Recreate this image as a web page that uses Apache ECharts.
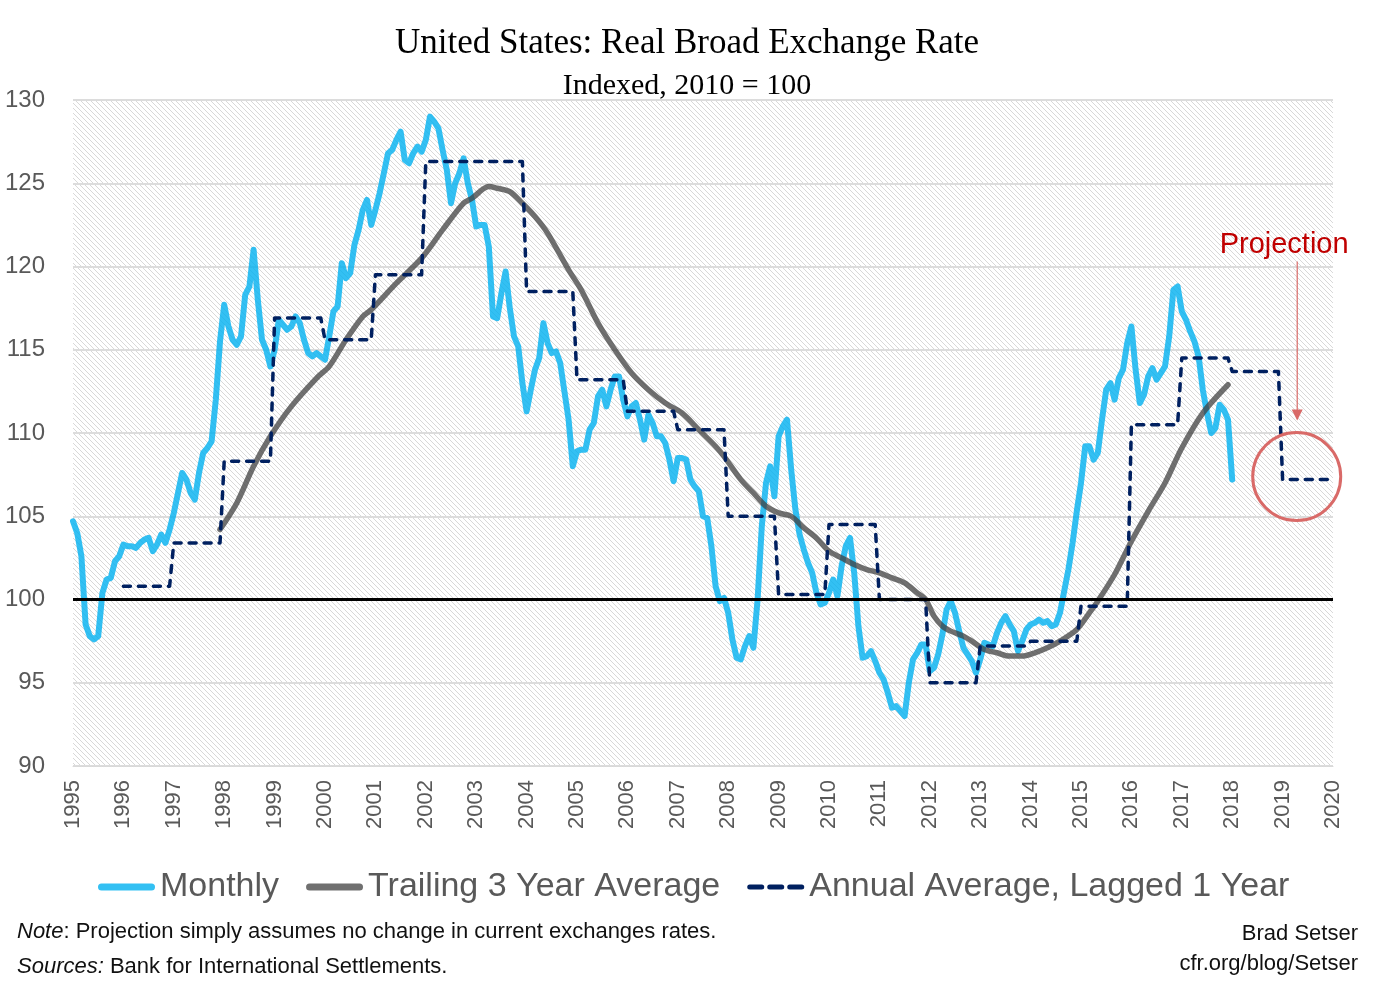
<!DOCTYPE html>
<html><head><meta charset="utf-8">
<script src="https://cdn.jsdelivr.net/npm/echarts@6/dist/echarts.min.js"></script>
<style>html,body{margin:0;padding:0;background:#fff}#c{width:1374px;height:989px}</style>
</head><body><div id="c"></div>
<script>
// ---- DATA ----
const startYear = 1995; // monthly series starts Jan 1995
const monthly = [
  104.7,104.0,102.6,98.5,97.8,97.6,97.8,100.4,101.2,101.3,102.3,102.6,
  103.3,103.2,103.2,103.1,103.4,103.6,103.7,102.9,103.3,103.9,103.4,104.2,
  105.2,106.4,107.6,107.2,106.4,106.0,107.6,108.8,109.1,109.5,112.0,115.5,
  117.7,116.4,115.6,115.3,115.8,118.3,118.8,121.0,118.0,115.6,115.0,114.0,
  115.0,116.8,116.5,116.2,116.4,117.0,116.6,115.6,114.8,114.6,114.8,114.6,
  114.4,115.8,117.3,117.6,120.2,119.3,119.6,121.3,122.2,123.4,124.0,122.5,
  123.4,124.4,125.6,126.8,127.0,127.6,128.1,126.4,126.2,126.8,127.2,126.9,
  127.6,129.0,128.7,128.3,127.0,125.8,123.8,125.0,125.6,126.5,125.0,124.0,
  122.4,122.5,122.5,121.2,117.0,116.9,118.4,119.7,117.5,115.8,115.2,113.0,
  111.3,112.6,113.8,114.5,116.6,115.4,114.8,114.9,114.2,112.5,110.8,108.0,
  108.9,109.0,109.0,110.2,110.6,112.2,112.6,111.6,112.6,113.4,113.4,112.0,
  111.0,111.6,111.8,110.8,109.6,111.1,110.6,109.8,109.8,109.4,108.4,107.1,
  108.5,108.5,108.4,107.2,106.8,106.5,105.0,104.9,103.2,100.8,99.9,100.1,
  99.2,97.6,96.5,96.4,97.2,97.8,97.1,100.0,104.4,107.0,108.0,106.2,
  109.8,110.4,110.8,107.8,105.4,103.9,103.0,102.2,101.6,100.4,99.7,99.8,
  100.4,101.2,100.2,102.0,103.2,103.7,101.6,98.4,96.5,96.6,96.9,96.3,
  95.6,95.2,94.4,93.5,93.6,93.3,93.0,95.0,96.4,96.8,97.3,97.3,
  95.7,95.9,96.7,97.9,99.4,99.9,99.2,98.1,97.1,96.7,96.3,95.6,
  96.4,97.4,97.3,97.2,98.0,98.6,99.0,98.5,98.1,96.9,97.5,98.2,
  98.5,98.6,98.8,98.6,98.7,98.4,98.5,99.2,100.5,101.8,103.4,105.3,
  107.0,109.2,109.2,108.4,108.8,110.8,112.6,113.0,112.0,113.3,113.8,115.4,
  116.4,113.8,111.8,112.3,113.4,113.9,113.2,113.6,114.0,115.8,118.6,118.8,
  117.3,116.8,116.1,115.5,114.6,112.6,111.2,110.0,110.3,111.7,111.4,110.8,
  107.2
];
// Trailing 3-year average, read at months since Jan 1995
const trailMonths = [35,39,43,47,52,58,61,65,69,71,77,83,88,93,95,99,101,104,107,110,113,118,121,125,129,133,137,141,145,149,153,155,159,162,165,168,171,174,177,180,183,186,189,192,195,198,201,203,205,207,209,212,214,217,220,223,226,229,232,235,239,242,244,248,252,256,260,264,269,275];
const trailValues = [104.2,105.8,108.0,109.8,111.6,113.3,114.0,115.6,117.0,117.4,119.0,120.5,122.2,123.8,124.1,124.8,124.7,124.5,123.8,123.0,122.0,119.8,118.6,116.6,115.0,113.6,112.6,111.8,111.2,110.2,109.2,108.6,107.2,106.4,105.6,105.2,105.0,104.3,103.7,102.9,102.5,102.1,101.8,101.6,101.3,101.0,100.4,100.0,99.0,98.4,98.1,97.8,97.5,97.0,96.8,96.6,96.6,96.8,97.1,97.5,98.2,99.2,99.9,101.5,103.5,105.3,107.0,109.1,111.2,112.9];
// Annual average, lagged one year (with projection for 2019)
const annualYears = [1996,1997,1998,1999,2000,2001,2002,2003,2004,2005,2006,2007,2008,2009,2010,2011,2012,2013,2014,2015,2016,2017,2018,2019];
const annualValues = [100.8,103.4,108.3,116.9,115.6,119.5,126.3,126.3,118.5,113.2,111.3,110.2,105.0,100.3,104.5,100.0,95.0,97.2,97.5,99.6,110.5,114.5,113.7,107.2];
const seriesNames = ['Monthly', 'Trailing 3 Year Average', 'Annual Average, Lagged 1 Year'];
const yMin = 90, yMax = 130, yStep = 5;
const xMin = 1995, xMax = 2020;

// ---- build series points ----
const monthlyPts = monthly.map((v, i) => [startYear + i / 12, v]);
const trailPts = trailMonths.map((m, i) => [startYear + m / 12, trailValues[i]]);
const annualPts = [];
annualYears.forEach((y, i) => { annualPts.push([y, annualValues[i]]); annualPts.push([y + 11 / 12, annualValues[i]]); });

// hatch pattern
const S = 5;
const pc = document.createElement('canvas');
pc.width = S; pc.height = S;
const g = pc.getContext('2d');
g.fillStyle = '#ffffff'; g.fillRect(0, 0, S, S);
g.strokeStyle = '#d8d8d8'; g.lineWidth = 1;
g.beginPath();
g.moveTo(-1, -1); g.lineTo(S + 1, S + 1);
g.moveTo(-1, S - 1); g.lineTo(1, S + 1);
g.moveTo(S - 1, -1); g.lineTo(S + 1, 1);
g.stroke();

const chart = echarts.init(document.getElementById('c'), null, {renderer: 'canvas'});
const axisLabelColor = '#595959';
const blue = 'rgba(0,176,240,0.8)', grey = 'rgba(64,64,64,0.75)', navy = '#002060';
const solidIcon = 'path://M3.5,0 L53.5,0 A3.5,3.5 0 0 1 53.5,7 L3.5,7 A3.5,3.5 0 0 1 3.5,0 Z';
const dashIcon = 'path://M2.5,1 L14.5,1 A2.5,2.5 0 0 1 14.5,6 L2.5,6 A2.5,2.5 0 0 1 2.5,1 Z M22.5,1 L34.5,1 A2.5,2.5 0 0 1 34.5,6 L22.5,6 A2.5,2.5 0 0 1 22.5,1 Z M42.5,1 L54.5,1 A2.5,2.5 0 0 1 54.5,6 L42.5,6 A2.5,2.5 0 0 1 42.5,1 Z M0,0 L0,0 M57,7 L57,7';
const option = {
  animation: false,
  backgroundColor: '#ffffff',
  grid: {left: 73, right: 41, top: 100, bottom: 223, show: true, borderWidth: 0,
         backgroundColor: {image: pc, repeat: 'repeat'}},
  xAxis: {
    type: 'value', min: xMin, max: xMax, interval: 1,
    axisLine: {show: true, lineStyle: {color: '#d9d9d9', width: 1}},
    axisTick: {show: false}, splitLine: {show: false},
    axisLabel: {rotate: 90, margin: 14, fontSize: 22, color: axisLabelColor,
                fontFamily: 'Liberation Sans', formatter: v => String(v)}
  },
  yAxis: {
    type: 'value', min: yMin, max: yMax, interval: yStep,
    axisLine: {show: false}, axisTick: {show: false},
    splitLine: {show: true, lineStyle: {color: '#dcdcdc', width: 2}},
    axisLabel: {fontSize: 24, color: axisLabelColor, margin: 28, fontFamily: 'Liberation Sans'}
  },
  legend: {
    show: true, orient: 'horizontal', left: 93, top: 865, itemGap: 27, itemWidth: 57, itemHeight: 7,
    textStyle: {fontSize: 34, color: '#595959', fontFamily: 'Liberation Sans'},
    data: [
      {name: seriesNames[0], icon: solidIcon},
      {name: seriesNames[1], icon: solidIcon},
      {name: seriesNames[2], icon: dashIcon}
    ]
  },
  series: [
    {type: 'line', name: '_base', data: [], z: 1, silent: true,
     markLine: {silent: true, symbol: 'none', label: {show: false},
                lineStyle: {color: '#000', width: 3, type: 'solid'}, data: [{yAxis: 100}]}},
    {type: 'line', name: seriesNames[0], data: monthlyPts, symbol: 'none', z: 2,
     lineStyle: {color: blue, width: 6, cap: 'round', join: 'round'},
     itemStyle: {color: blue}},
    {type: 'line', name: seriesNames[1], data: trailPts, symbol: 'none', z: 3, smooth: 0.3,
     lineStyle: {color: grey, width: 5.5, cap: 'round'},
     itemStyle: {color: grey}},
    {type: 'line', name: seriesNames[2], data: annualPts, symbol: 'none', z: 4,
     lineStyle: {color: navy, width: 3.5, type: [7, 8], cap: 'round', join: 'round'},
     itemStyle: {color: navy}}
  ]
};
chart.setOption(option);

// annotations placed through the chart's own scales
const P = (x, y) => chart.convertToPixel({gridIndex: 0}, [x, y]);
const circ = P(2019.28, 107.38);
const arrTop = P(2019.29, 120.3);
const arrTip = P(2019.29, 110.75);
const projTxt = P(2019.03, 121.3);
const txt = (x, y, text, size, extra) => Object.assign({type: 'text', x: x, y: y,
  style: Object.assign({text: text, fontSize: size, fontFamily: 'Liberation Sans', fill: '#111', verticalAlign: 'middle'}, extra || {})});
chart.setOption({
  graphic: [
    {type: 'text', x: 687, y: 44, style: {text: 'United States: Real Broad Exchange Rate', fontSize: 35, fontFamily: 'Liberation Serif', fill: '#000', align: 'center', verticalAlign: 'middle'}},
    {type: 'text', x: 687, y: 86, style: {text: 'Indexed, 2010 = 100', fontSize: 30, fontFamily: 'Liberation Serif', fill: '#000', align: 'center', verticalAlign: 'middle'}},
    {type: 'circle', shape: {cx: circ[0], cy: circ[1], r: 44}, style: {fill: 'none', stroke: '#d96a68', lineWidth: 3}, z: 10},
    {type: 'line', shape: {x1: arrTop[0], y1: arrTop[1], x2: arrTip[0], y2: arrTip[1] - 10}, style: {stroke: '#d96a68', lineWidth: 1.2}, z: 10},
    {type: 'polygon', shape: {points: [[arrTip[0] - 5.5, arrTip[1] - 11], [arrTip[0] + 5.5, arrTip[1] - 11], [arrTip[0], arrTip[1]]]}, style: {fill: '#d96a68'}, z: 10},
    {type: 'text', x: projTxt[0], y: projTxt[1], style: {text: 'Projection', fontSize: 29, fontFamily: 'Liberation Sans', fill: '#c00000', align: 'center', verticalAlign: 'middle'}, z: 10},
    txt(17, 932, '{i|Note}: Projection simply assumes no change in current exchanges rates.', 22,
        {rich: {i: {fontStyle: 'italic', fontSize: 22, fontFamily: 'Liberation Sans', fill: '#111'}}}),
    txt(17, 967, '{i|Sources:} Bank for International Settlements.', 22,
        {rich: {i: {fontStyle: 'italic', fontSize: 22, fontFamily: 'Liberation Sans', fill: '#111'}}}),
    txt(1358, 934, 'Brad Setser', 22, {align: 'right'}),
    txt(1358, 964, 'cfr.org/blog/Setser', 22, {align: 'right'})
  ]
});
</script></body></html>
